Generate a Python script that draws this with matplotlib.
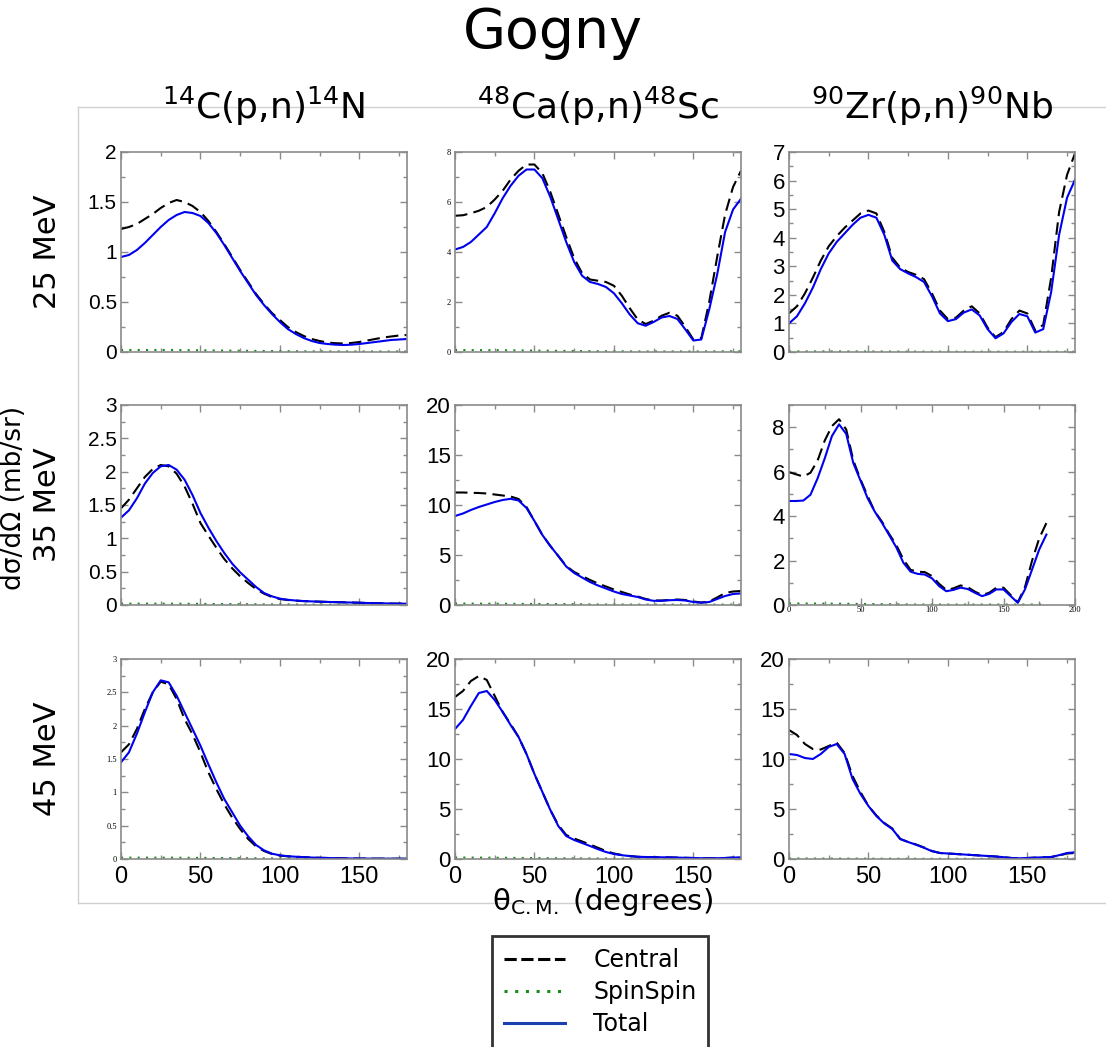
import matplotlib
matplotlib.use("Agg")
import matplotlib.pyplot as plt
from matplotlib.lines import Line2D
from matplotlib.ticker import MultipleLocator, FuncFormatter

# ---------------- data ----------------
ANGLES = list(range(0, 181, 5))
SS_ANGLES = [0, 30, 60, 90, 120, 150, 180]

# 25 MeV, 14C
c25_C = [1.23, 1.25, 1.28, 1.33, 1.38, 1.44, 1.49, 1.52, 1.50, 1.46, 1.40, 1.31, 1.20, 1.08, 0.95, 0.82,
         0.70, 0.58, 0.48, 0.39, 0.32, 0.25, 0.20, 0.16, 0.13, 0.11, 0.095, 0.088, 0.085, 0.09, 0.10,
         0.115, 0.13, 0.145, 0.155, 0.165, 0.17]
t25_C = [0.95, 0.97, 1.02, 1.09, 1.17, 1.25, 1.32, 1.37, 1.40, 1.39, 1.36, 1.29, 1.19, 1.07, 0.94, 0.81,
         0.69, 0.57, 0.47, 0.38, 0.30, 0.23, 0.18, 0.14, 0.11, 0.09, 0.08, 0.073, 0.07, 0.073, 0.08,
         0.09, 0.10, 0.11, 0.12, 0.125, 0.13]
s25_C = [0.02, 0.02, 0.015, 0.01, 0.006, 0.005, 0.005]

# 25 MeV, 48Ca
c25_Ca = [5.45, 5.47, 5.55, 5.65, 5.80, 6.10, 6.45, 6.90, 7.25, 7.50, 7.50, 7.15, 6.40, 5.50, 4.60, 3.75,
          3.15, 2.90, 2.85, 2.80, 2.65, 2.25, 1.75, 1.30, 1.12, 1.25, 1.45, 1.57, 1.45, 1.00, 0.50,
          0.55, 2.00, 3.80, 5.50, 6.60, 7.25]
t25_Ca = [4.10, 4.20, 4.40, 4.70, 5.00, 5.55, 6.15, 6.65, 7.05, 7.30, 7.30, 6.95, 6.20, 5.30, 4.40, 3.60,
          3.05, 2.80, 2.72, 2.60, 2.35, 1.95, 1.50, 1.15, 1.05, 1.20, 1.38, 1.44, 1.32, 0.90, 0.46,
          0.50, 1.70, 3.10, 4.80, 5.70, 6.13]
s25_Ca = [0.08, 0.07, 0.05, 0.03, 0.02, 0.02, 0.03]

# 25 MeV, 90Zr
c25_Zr = [1.35, 1.60, 2.05, 2.60, 3.20, 3.70, 4.05, 4.35, 4.60, 4.85, 4.95, 4.85, 4.20, 3.30, 2.95, 2.80,
          2.70, 2.55, 2.05, 1.45, 1.15, 1.20, 1.45, 1.60, 1.35, 0.85, 0.52, 0.70, 1.15, 1.45, 1.35,
          0.75, 0.95, 2.60, 4.90, 6.20, 6.95]
t25_Zr = [1.00, 1.25, 1.70, 2.25, 2.90, 3.45, 3.85, 4.15, 4.45, 4.70, 4.80, 4.70, 4.10, 3.20, 2.90, 2.75,
          2.62, 2.45, 1.95, 1.35, 1.08, 1.15, 1.38, 1.49, 1.28, 0.80, 0.48, 0.65, 1.05, 1.33, 1.25,
          0.68, 0.80, 2.10, 4.10, 5.40, 6.03]
s25_Zr = [0.02, 0.02, 0.015, 0.01, 0.01, 0.01, 0.01]

# 35 MeV, 14C
c35_C = [1.45, 1.58, 1.75, 1.92, 2.04, 2.10, 2.08, 1.97, 1.78, 1.52, 1.23, 1.04, 0.86, 0.69, 0.55, 0.43,
         0.33, 0.24, 0.17, 0.12, 0.09, 0.075, 0.065, 0.058, 0.053, 0.05, 0.046, 0.043, 0.04, 0.037,
         0.034, 0.03, 0.027, 0.025, 0.022, 0.02, 0.02]
t35_C = [1.31, 1.42, 1.60, 1.82, 1.98, 2.08, 2.10, 2.03, 1.88, 1.65, 1.38, 1.16, 0.96, 0.78, 0.62, 0.49,
         0.38, 0.27, 0.18, 0.13, 0.095, 0.078, 0.067, 0.059, 0.054, 0.05, 0.046, 0.043, 0.04, 0.037,
         0.034, 0.03, 0.027, 0.025, 0.022, 0.02, 0.02]
s35_C = [0.02, 0.02, 0.015, 0.01, 0.006, 0.005, 0.005]

# 35 MeV, 48Ca
c35_Ca = [11.25, 11.25, 11.22, 11.20, 11.15, 11.05, 10.95, 10.85, 10.60, 9.80, 8.40, 7.00, 5.90, 4.90,
          3.90, 3.30, 2.90, 2.50, 2.15, 1.85, 1.55, 1.30, 1.05, 0.85, 0.60, 0.45, 0.45, 0.50, 0.55,
          0.50, 0.35, 0.25, 0.35, 0.75, 1.20, 1.35, 1.40]
t35_Ca = [8.90, 9.15, 9.50, 9.80, 10.05, 10.30, 10.50, 10.62, 10.45, 9.70, 8.40, 7.00, 5.90, 4.90,
          3.85, 3.20, 2.75, 2.30, 1.95, 1.65, 1.35, 1.10, 0.95, 0.80, 0.55, 0.42, 0.42, 0.48, 0.50,
          0.45, 0.30, 0.23, 0.30, 0.60, 0.90, 1.10, 1.16]
s35_Ca = [0.15, 0.12, 0.1, 0.05, 0.04, 0.04, 0.04]

# 35 MeV, 90Zr
c35_Zr = [5.98, 5.88, 5.78, 5.95, 6.50, 7.40, 8.05, 8.36, 7.90, 6.50, 5.65, 4.90, 4.20, 3.75, 3.20, 2.70,
          2.05, 1.58, 1.50, 1.48, 1.30, 0.95, 0.68, 0.75, 0.88, 0.80, 0.60, 0.45, 0.55, 0.78, 0.78,
          0.45, 0.12, 0.80, 2.00, 3.00, 3.69]
t35_Zr = [4.68, 4.68, 4.70, 4.96, 5.70, 6.60, 7.60, 8.13, 7.70, 6.38, 5.60, 4.80, 4.20, 3.70, 3.15, 2.60,
          1.90, 1.50, 1.40, 1.37, 1.20, 0.85, 0.62, 0.68, 0.78, 0.72, 0.55, 0.40, 0.50, 0.70, 0.70,
          0.40, 0.10, 0.70, 1.60, 2.50, 3.17]
s35_Zr = [0.07, 0.06, 0.04, 0.02, 0.02, 0.02, 0.02]

# 45 MeV, 14C
c45_C = [1.60, 1.72, 1.95, 2.25, 2.50, 2.66, 2.62, 2.40, 2.10, 1.87, 1.60, 1.30, 1.05, 0.82, 0.62, 0.45,
         0.30, 0.19, 0.12, 0.075, 0.05, 0.04, 0.033, 0.028, 0.022, 0.018, 0.015, 0.012, 0.01, 0.008,
         0.007, 0.006, 0.005, 0.005, 0.004, 0.004, 0.004]
t45_C = [1.45, 1.60, 1.88, 2.20, 2.50, 2.68, 2.65, 2.45, 2.20, 1.95, 1.70, 1.42, 1.15, 0.90, 0.70, 0.50,
         0.34, 0.21, 0.13, 0.08, 0.055, 0.042, 0.034, 0.028, 0.022, 0.018, 0.015, 0.012, 0.01, 0.008,
         0.007, 0.006, 0.005, 0.005, 0.004, 0.004, 0.004]
s45_C = [0.02, 0.02, 0.015, 0.01, 0.006, 0.005, 0.005]

# 45 MeV, 48Ca
c45_Ca = [16.2, 16.8, 17.8, 18.3, 17.9, 16.3, 14.7, 13.5, 12.2, 10.5, 8.5, 6.7, 4.9, 3.4, 2.4, 2.05, 1.75,
          1.45, 1.12, 0.80, 0.55, 0.40, 0.30, 0.22, 0.20, 0.18, 0.17, 0.16, 0.14, 0.12, 0.10, 0.08, 0.07,
          0.08, 0.10, 0.14, 0.17]
t45_Ca = [13.0, 13.9, 15.3, 16.6, 16.8, 15.9, 14.7, 13.4, 12.2, 10.5, 8.5, 6.7, 4.9, 3.3, 2.3, 1.9, 1.6,
          1.3, 0.98, 0.70, 0.50, 0.38, 0.29, 0.22, 0.20, 0.18, 0.17, 0.16, 0.14, 0.12, 0.10, 0.08, 0.07,
          0.08, 0.10, 0.14, 0.17]
s45_Ca = [0.15, 0.12, 0.08, 0.05, 0.04, 0.04, 0.04]

# 45 MeV, 90Zr
c45_Zr = [12.9, 12.4, 11.5, 11.0, 10.95, 11.3, 11.65, 10.6, 8.3, 6.7, 5.3, 4.35, 3.6, 3.05, 2.0, 1.7,
          1.45, 1.15, 0.80, 0.60, 0.55, 0.50, 0.45, 0.40, 0.35, 0.30, 0.25, 0.18, 0.10, 0.07, 0.10,
          0.14, 0.17, 0.20, 0.35, 0.55, 0.60]
t45_Zr = [10.5, 10.4, 10.1, 10.0, 10.5, 11.2, 11.5, 10.5, 8.0, 6.5, 5.3, 4.3, 3.55, 3.0, 2.0, 1.7,
          1.42, 1.12, 0.78, 0.60, 0.55, 0.50, 0.45, 0.40, 0.35, 0.30, 0.25, 0.18, 0.10, 0.07, 0.10,
          0.14, 0.17, 0.20, 0.38, 0.60, 0.67]
s45_Zr = [0.05, 0.04, 0.03, 0.02, 0.02, 0.02, 0.02]

COL_TITLES = [r"$^{14}$C(p,n)$^{14}$N", r"$^{48}$Ca(p,n)$^{48}$Sc", r"$^{90}$Zr(p,n)$^{90}$Nb"]
ROW_LABELS = ["25 MeV", "35 MeV", "45 MeV"]
LEGEND_LABELS = ["Central", "SpinSpin", "Total"]

CENTRAL = [[c25_C, c25_Ca, c25_Zr], [c35_C, c35_Ca, c35_Zr], [c45_C, c45_Ca, c45_Zr]]
TOTAL = [[t25_C, t25_Ca, t25_Zr], [t35_C, t35_Ca, t35_Zr], [t45_C, t45_Ca, t45_Zr]]
SPIN = [[s25_C, s25_Ca, s25_Zr], [s35_C, s35_Ca, s35_Zr], [s45_C, s45_Ca, s45_Zr]]

YLIM = [[2, 8, 7], [3, 20, 9], [3, 20, 20]]
YMAJ = [[0.5, 2, 1], [0.5, 5, 2], [0.5, 5, 5]]
YMIN = [[0.25, 1, 0.5], [0.25, 2.5, 1], [0.25, 2.5, 2.5]]
YSTYLE = [["mid", "small", "big"], ["mid", "big", "big"], ["small", "big", "big"]]

# ---------------- figure ----------------
W, H = 1106, 1047
fig = plt.figure(figsize=(W / 100, H / 100), dpi=100)

col_left = [121, 455, 789]
row_top = [152, 405, 659]
ax_w, ax_h = 286, 200

SANS = "Liberation Sans"
SERIF = "Liberation Serif"
GRAY = "#8a8a8a"
fmt = FuncFormatter(lambda v, p: f"{v:g}")

for r in range(3):
    for c in range(3):
        l = col_left[c] / W
        b = 1 - (row_top[r] + ax_h) / H
        ax = fig.add_axes([l, b, ax_w / W, ax_h / H])
        ax.plot(ANGLES, CENTRAL[r][c], color="black", lw=1.5, ls=(0, (6, 3)))
        ax.plot(SS_ANGLES, SPIN[r][c], color="#1a8a1a", lw=1.5, ls=(0, (1, 3)))
        ax.plot(ANGLES, TOTAL[r][c], color="#0000ee", lw=1.5)
        xmax = 200 if (r == 1 and c == 2) else 180
        ax.set_xlim(0, xmax)
        ax.set_ylim(0, YLIM[r][c])
        ax.xaxis.set_major_locator(MultipleLocator(50))
        ax.xaxis.set_minor_locator(MultipleLocator(25))
        ax.yaxis.set_major_locator(MultipleLocator(YMAJ[r][c]))
        ax.yaxis.set_minor_locator(MultipleLocator(YMIN[r][c]))
        ax.yaxis.set_major_formatter(fmt)
        ax.xaxis.set_major_formatter(fmt)
        ax.tick_params(which="both", direction="in", top=True, right=True, color=GRAY, width=1)
        ax.tick_params(which="major", length=5)
        ax.tick_params(which="minor", length=3)
        for s in ax.spines.values():
            s.set_color(GRAY)
            s.set_linewidth(1.2)
        st = YSTYLE[r][c]
        if st == "big":
            for t in ax.get_yticklabels():
                t.set_fontfamily(SANS); t.set_fontsize(16)
        elif st == "mid":
            for t in ax.get_yticklabels():
                t.set_fontfamily(SANS); t.set_fontsize(15)
        else:
            for t in ax.get_yticklabels():
                t.set_fontfamily(SERIF); t.set_fontsize(6)
        ax.tick_params(axis="y", pad=3)
        if r == 2:
            ax.set_xticks([0, 50, 100, 150])
            ax.set_xticklabels(["0", "50", "100", "150"], fontfamily=SANS, fontsize=17)
            ax.tick_params(axis="x", pad=5)
        elif r == 1 and c == 2:
            for t in ax.get_xticklabels():
                t.set_fontfamily(SERIF); t.set_fontsize(6)
            ax.tick_params(axis="x", pad=1)
        else:
            ax.set_xticklabels([])

# titles and labels
fig.text(0.5, 1 - 33 / H, "Gogny", ha="center", va="center", fontsize=40, fontfamily="DejaVu Sans")
for c in range(3):
    fig.text((col_left[c] + ax_w / 2) / W, 1 - 106 / H, COL_TITLES[c], ha="center", va="center",
             fontsize=26, fontfamily="DejaVu Sans")
for r in range(3):
    fig.text(47 / W, 1 - (row_top[r] + ax_h / 2) / H, ROW_LABELS[r], ha="center", va="center",
             rotation=90, fontsize=22, fontfamily="DejaVu Sans")
fig.text(14 / W, 1 - 498 / H, "dσ/dΩ (mb/sr)", ha="center", va="center",
         rotation=90, fontsize=19, fontfamily="DejaVu Sans")
fig.text(603 / W, 1 - 902 / H, r"θ$_{\mathregular{C.M.}}$ (degrees)", ha="center", va="center",
         fontsize=21, fontfamily="DejaVu Sans")

# frame lines
lc = "#d0d0d0"
fig.add_artist(Line2D([78 / W, 1.0], [1 - 107 / H, 1 - 107 / H], color=lc, lw=1))
fig.add_artist(Line2D([78 / W, 1.0], [1 - 903 / H, 1 - 903 / H], color=lc, lw=1))
fig.add_artist(Line2D([78 / W, 78 / W], [1 - 107 / H, 1 - 903 / H], color=lc, lw=1))

# legend
handles = [Line2D([], [], color="black", lw=2.2, ls=(0, (4, 1.5))),
           Line2D([], [], color="#1a8a1a", lw=2.2, ls=(0, (1, 2.5))),
           Line2D([], [], color="#1a3fb0", lw=2.2)]
leg = fig.legend(handles, LEGEND_LABELS, loc="upper center", bbox_to_anchor=(600 / W, 1 - 936 / H),
                 frameon=True, fancybox=False, fontsize=17, handlelength=2.6, handletextpad=1.2,
                 borderpad=0.5, labelspacing=0.35, borderaxespad=0)
leg.get_frame().set_edgecolor("black")
leg.get_frame().set_linewidth(2)

fig.savefig("out.png", dpi=100)
